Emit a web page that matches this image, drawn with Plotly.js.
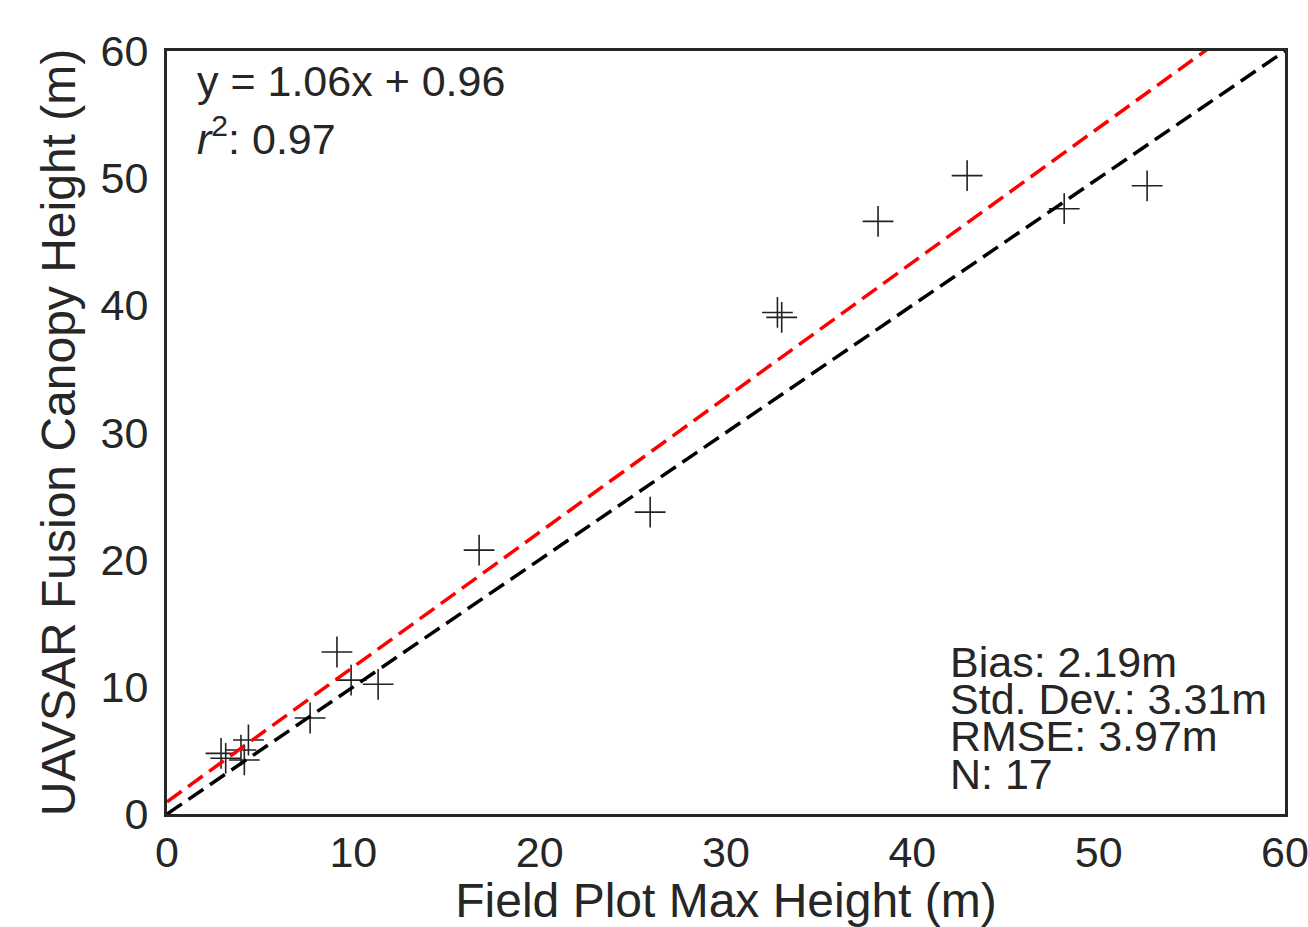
<!DOCTYPE html>
<html>
<head>
<meta charset="utf-8">
<script src="https://cdn.plot.ly/plotly-3.0.1.min.js"></script>
<style>html,body{margin:0;padding:0;background:#fff;}#chart{width:1308px;height:927px;}</style>
</head>
<body>
<div id="chart"></div>
<script>
// Field plot max height (x) and UAVSAR fusion canopy height (y), metres
const fieldHeight = [2.90, 3.15, 3.97, 4.15, 4.37, 7.68, 9.12, 9.88, 11.33, 16.75, 25.93, 32.76, 32.99, 38.16, 42.94, 48.15, 52.60];
const uavsarHeight = [4.77, 4.38, 5.03, 4.25, 5.82, 7.55, 12.74, 10.53, 10.20, 20.75, 23.74, 39.44, 39.05, 46.60, 50.20, 47.60, 49.40];

// Regression fit and reference line
const fitSlope = 1.06;
const fitIntercept = 0.96;
const lineX = [0, 60];
const fitY = lineX.map(v => fitSlope * v + fitIntercept);
const oneToOneY = lineX.slice();

const tickVals = [0, 10, 20, 30, 40, 50, 60];
const tickText = ['0', '10', '20', '30', '40', '50', '60'];

const statLines = ['Bias: 2.19m', 'Std. Dev.: 3.31m', 'RMSE: 3.97m', 'N: 17'];
const eqText = 'y = 1.06x + 0.96';
const r2Text = '<i>r</i><sup>2</sup>: 0.97';

const FONT = '"Liberation Sans", Arial, "DejaVu Sans", sans-serif';
const INK = '#262626';

const traces = [
  {
    type: 'scatter', mode: 'markers', x: fieldHeight, y: uavsarHeight,
    marker: {symbol: 'cross-thin-open', size: 22, color: '#222', line: {width: 1.6, color: '#222'}},
    showlegend: false, hoverinfo: 'x+y'
  },
  {
    type: 'scatter', mode: 'lines', x: lineX, y: fitY,
    line: {color: '#ff0000', width: 3.5, dash: '18px,8px'}, showlegend: false
  },
  {
    type: 'scatter', mode: 'lines', x: lineX, y: oneToOneY,
    line: {color: '#000000', width: 3.5, dash: '18px,8px'}, showlegend: false
  }
];

const statY = [0.1664, 0.1180, 0.0695, 0.0197];
const annotations = [
  {text: eqText, xref: 'paper', yref: 'paper', x: 0.0259, y: 0.9279, xanchor: 'left', yanchor: 'bottom', showarrow: false, borderpad: 0, font: {size: 43, color: INK, family: FONT}},
  {text: r2Text, xref: 'paper', yref: 'paper', x: 0.0259, y: 0.8519, xanchor: 'left', yanchor: 'bottom', showarrow: false, borderpad: 0, font: {size: 43, color: INK, family: FONT}}
].concat(statLines.map((t, i) => ({
  text: t, xref: 'paper', yref: 'paper', x: 0.6995, y: statY[i], xanchor: 'left', yanchor: 'bottom',
  showarrow: false, borderpad: 0, font: {size: 43, color: INK, family: FONT}
})));

const axisCommon = {
  range: [0, 60], tickmode: 'array', tickvals: tickVals, ticktext: tickText,
  showgrid: false, zeroline: false, showline: true, mirror: true,
  linecolor: INK, linewidth: 3, ticks: '', ticklabeloverflow: 'allow',
  tickfont: {size: 43, color: INK, family: FONT}, fixedrange: true
};

const layout = {
  width: 1308, height: 927,
  margin: {l: 167, r: 23, t: 51, b: 113, pad: 0},
  paper_bgcolor: '#ffffff', plot_bgcolor: '#ffffff',
  font: {family: FONT, color: INK},
  xaxis: Object.assign({}, axisCommon, {
    ticklabelstandoff: -2,
    title: {text: 'Field Plot Max Height (m)', font: {size: 48, color: INK, family: FONT}, standoff: 14}
  }),
  yaxis: Object.assign({}, axisCommon, {
    ticklabelstandoff: 7,
    title: {text: 'UAVSAR Fusion Canopy Height (m)', font: {size: 48, color: INK, family: FONT}, standoff: 10}
  }),
  annotations: annotations,
  showlegend: false
};

Plotly.newPlot('chart', traces, layout, {displayModeBar: false, staticPlot: true});
</script>
</body>
</html>
